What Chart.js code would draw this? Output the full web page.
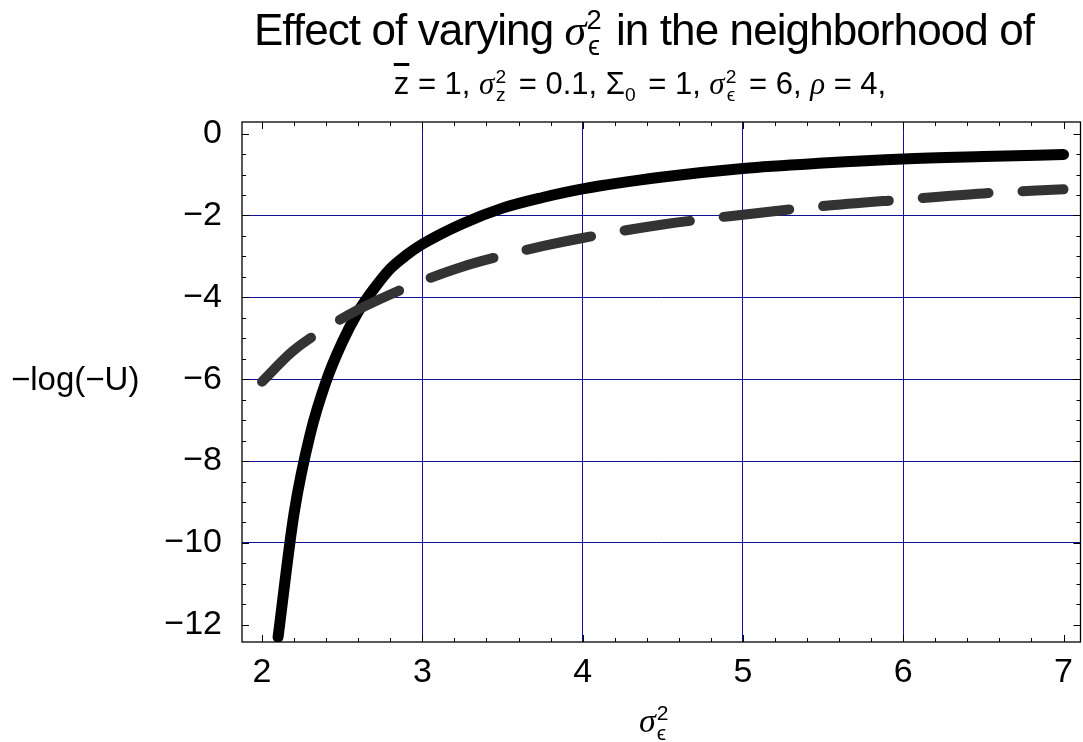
<!DOCTYPE html>
<html>
<head>
<meta charset="utf-8">
<script src="https://cdn.jsdelivr.net/npm/chart.js@4.4.1/dist/chart.umd.min.js"></script>
<style>
  html, body { margin: 0; padding: 0; background: #fff; }
  #wrap { position: relative; width: 1083px; height: 742px; font-family: "Liberation Sans", Arial, sans-serif; color: #000; }
  #chart { position: absolute; left: 0; top: 0; }
  .lbl { position: absolute; white-space: nowrap; line-height: 1; }
  .m { font-family: "Liberation Serif", "DejaVu Serif", serif; font-style: italic; }
  .ss { display: inline-flex; flex-direction: column; vertical-align: middle; line-height: 0.95; font-size: 0.62em; margin-left: 1px; margin-right: 4px; }
  .sub { font-size: 0.62em; vertical-align: -0.35em; margin-right: 4px; }
  .bar { text-decoration: overline; }
</style>
</head>
<body>
<div id="wrap">
  <canvas id="chart" width="1083" height="742"></canvas>
  <div class="lbl" id="title" style="left:0;width:1288px;top:7px;font-size:44px;text-align:center;letter-spacing:-0.9px;">Effect of varying <span class="m">σ</span><span class="ss"><span>2</span><span>ϵ</span></span> in the neighborhood of</div>
  <div class="lbl" id="subtitle" style="left:0;width:1280px;top:68px;font-size:31px;text-align:center;"><span class="bar">z</span> = 1, <span class="m">σ</span><span class="ss"><span>2</span><span>z</span></span> = 0.1, Σ<span class="sub">0</span> = 1, <span class="m">σ</span><span class="ss"><span>2</span><span>ϵ</span></span> = 6, <span class="m">ρ</span> = 4,</div>
  <div class="lbl" id="ylabel" style="left:11px;top:362px;font-size:33px;">−log(−U)</div>
  <div class="lbl" id="xlabel" style="left:639px;top:703px;font-size:34px;"><span class="m">σ</span><span class="ss"><span>2</span><span>ϵ</span></span></div>
</div>
<script>
// values
const solidX = [2.1, 2.2, 2.3, 2.4, 2.5, 2.6, 2.7, 2.8, 2.9, 3.0, 3.25, 3.5, 3.75, 4.0, 4.5, 5.0, 5.5, 6.0, 6.5, 7.0];
const solidY = [-12.3, -9.27, -7.35, -6.05, -5.1, -4.35, -3.78, -3.3, -2.97, -2.7, -2.2, -1.82, -1.56, -1.35, -1.06, -0.85, -0.72, -0.62, -0.56, -0.51];
const dashX = [2.0, 2.19, 2.4, 2.6, 2.8, 3.0, 3.25, 3.5, 3.75, 4.0, 4.5, 5.0, 5.5, 6.0, 6.5, 7.0];
const dashY = [-6.06, -5.32, -4.75, -4.3, -3.93, -3.6, -3.25, -2.98, -2.75, -2.55, -2.22, -1.98, -1.77, -1.61, -1.46, -1.36];
const xTicks = [2, 3, 4, 5, 6, 7];
const yTicks = [0, -2, -4, -6, -8, -10, -12];
const xGrid = [3, 4, 5, 6];
const yGrid = [-2, -4, -6, -8, -10];

const NAVY = '#10109a';
const FONT = { family: '"Liberation Sans", Arial, sans-serif', size: 34 };

const toPoints = (xs, ys) => xs.map((x, i) => ({ x, y: ys[i] }));

// frame with inward major/minor ticks on all four sides
const framePlugin = {
  id: 'frame',
  afterDraw(chart) {
    const { ctx, chartArea: a, scales: { x, y } } = chart;
    ctx.save();
    ctx.strokeStyle = '#000';
    ctx.lineWidth = 1.3;
    ctx.strokeRect(a.left, a.top, a.right - a.left, a.bottom - a.top);
    ctx.lineWidth = 1;
    ctx.beginPath();
    for (let i = 0; i <= 25; i++) {
      const px = Math.round(x.getPixelForValue(2 + i * 0.2)) + 0.5;
      const len = i % 5 === 0 ? 7 : 4;
      ctx.moveTo(px, a.bottom); ctx.lineTo(px, a.bottom - len);
      ctx.moveTo(px, a.top); ctx.lineTo(px, a.top + len);
    }
    for (let i = 0; i <= 24; i++) {
      const py = Math.round(y.getPixelForValue(-i * 0.5)) + 0.5;
      const len = i % 4 === 0 ? 7 : 4;
      ctx.moveTo(a.left, py); ctx.lineTo(a.left + len, py);
      ctx.moveTo(a.right, py); ctx.lineTo(a.right - len, py);
    }
    ctx.stroke();
    ctx.restore();
  },
};

new Chart(document.getElementById('chart'), {
  type: 'line',
  data: {
    datasets: [
      {
        label: 'dashed',
        data: toPoints(dashX, dashY),
        borderColor: '#333333',
        borderWidth: 10,
        borderDash: [66, 34],
        borderCapStyle: 'round',
        borderJoinStyle: 'round',
        cubicInterpolationMode: 'monotone',
        pointRadius: 0,
        order: 0,
      },
      {
        label: 'solid',
        data: toPoints(solidX, solidY),
        borderColor: '#000000',
        borderWidth: 11,
        borderCapStyle: 'round',
        borderJoinStyle: 'round',
        cubicInterpolationMode: 'monotone',
        pointRadius: 0,
        order: 1,
      },
    ],
  },
  options: {
    responsive: false,
    animation: false,
    events: [],
    layout: { padding: { top: 122, right: 2, left: 0, bottom: 0 } },
    plugins: { legend: { display: false }, tooltip: { enabled: false } },
    scales: {
      x: {
        type: 'linear',
        min: 1.875,
        max: 7.106,
        afterBuildTicks: (s) => { s.ticks = xTicks.map(v => ({ value: v })); },
        afterFit: (s) => { s.height = 100; },
        border: { display: false },
        grid: {
          drawTicks: false,
          lineWidth: 1,
          color: (c) => (xGrid.includes(c.tick && c.tick.value) ? NAVY : 'transparent'),
        },
        ticks: { color: '#000', font: FONT, padding: 10, maxRotation: 0 },
      },
      y: {
        type: 'linear',
        min: -12.42,
        max: 0.284,
        afterBuildTicks: (s) => { s.ticks = yTicks.map(v => ({ value: v })); },
        afterFit: (s) => { s.width = 242; },
        border: { display: false },
        grid: {
          drawTicks: false,
          lineWidth: 1,
          color: (c) => (yGrid.includes(c.tick && c.tick.value) ? NAVY : 'transparent'),
        },
        ticks: {
          color: '#000',
          font: FONT,
          padding: 20,
          callback: (v) => (v < 0 ? '\u2212' + Math.abs(v) : String(v)),
        },
      },
    },
  },
  plugins: [framePlugin],
});
</script>
</body>
</html>
